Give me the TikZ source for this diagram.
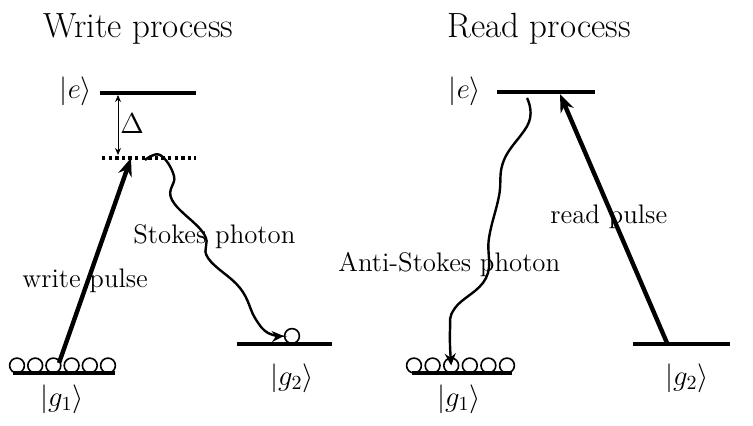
\documentclass[tikz,border=0pt]{standalone}
\usetikzlibrary{arrows.meta}
\begin{document}
\begin{tikzpicture}[x=0.5pt,y=-0.5pt,
  level/.style={line width=1.8pt},
  virt/.style={line width=1.6pt,dash pattern=on 1.7pt off 1.6pt},
  atom/.style={draw,line width=0.8pt,circle,minimum size=7.4pt,inner sep=0pt},
  pulse/.style={line width=2.2pt,-{Stealth[length=9pt,width=7pt]}},
  photon/.style={line width=1.2pt,-{Stealth[length=6pt,width=5.5pt,inset=2pt]}},
  ttl/.style={font=\fontsize{17.5}{21}\selectfont,anchor=base west,inner sep=0pt},
  lbl/.style={font=\fontsize{13.4}{16}\selectfont,anchor=base west,inner sep=0pt},
  ket/.style={font=\fontsize{14.5}{17}\selectfont,inner sep=0pt}]
\useasboundingbox (0,0) rectangle (753,426);
% ---------------- Write process ----------------
\node[ttl] (tw) at (43,38) {Write process};
\coordinate (weL) at (100,93); \coordinate (weR) at (196,93);
\draw[level] (weL) -- (weR);
\coordinate (wvL) at (102,158); \coordinate (wvR) at (196,158);
\draw[virt] (wvL) -- (wvR);
\node[ket] (kew) at (76,91) {$|e\rangle$};
\coordinate (dtop) at (118,95); \coordinate (dbot) at (118,155);
\draw[line width=0.5pt,{Stealth[length=3.5pt,width=3pt]}-{Stealth[length=3.5pt,width=3pt]}] (dtop) -- (dbot);
\node[ket] (delta) at (132,124) {$\Delta$};
\coordinate (wg1L) at (13,373); \coordinate (wg1R) at (115,373);
\draw[level] (wg1L) -- (wg1R);
\foreach \i in {0,...,5} \node[atom] (wa\i) at (17+18.2*\i,365.5) {};
\node[ket] (kg1w) at (62,399) {$|g_1\rangle$};
\coordinate (wg2L) at (237,344); \coordinate (wg2R) at (332,344);
\draw[level] (wg2L) -- (wg2R);
\node[atom] (wb) at (292,336) {};
\node[ket] (kg2w) at (292,378) {$|g_2\rangle$};
\coordinate (wpS) at (59,363); \coordinate (wpE) at (131,158);
\draw[pulse] (wpS) -- (wpE);
\node[lbl] (wpl) at (22,288) {write pulse};
\coordinate (stS) at (145,160);
\draw[photon] plot[smooth,tension=0.7] coordinates {(stS) (160,155) (174,176) (172,200) (204,234) (208,258) (240,288) (255,318) (268,333) (wb.west)};
\node[lbl] (stl) at (133,244) {Stokes photon};
% ---------------- Read process ----------------
\node[ttl] (tr) at (447,38) {Read process};
\coordinate (reL) at (497,92); \coordinate (reR) at (595,92);
\draw[level] (reL) -- (reR);
\node[ket] (ker) at (465,91) {$|e\rangle$};
\coordinate (rg1L) at (412,373); \coordinate (rg1R) at (512,373);
\draw[level] (rg1L) -- (rg1R);
\foreach \i in {0,...,5} \node[atom] (ra\i) at (414+18.6*\i,365.5) {};
\node[ket] (kg1r) at (459,399) {$|g_1\rangle$};
\coordinate (rg2L) at (633,344); \coordinate (rg2R) at (730,344);
\draw[level] (rg2L) -- (rg2R);
\node[ket] (kg2r) at (687,378) {$|g_2\rangle$};
\coordinate (rpS) at (667,343); \coordinate (rpE) at (560,94);
\draw[pulse] (rpS) -- (rpE);
\node[lbl] (rpl) at (550,224) {read pulse};
\coordinate (asS) at (527,98);
\draw[photon] plot[smooth,tension=0.7] coordinates {(asS) (529,122) (504,160) (499,196) (489,238) (486,278) (455,308) (450,330) (ra2.center)};
\node[lbl] (asl) at (338,272) {Anti-Stokes photon};
\end{tikzpicture}
\end{document}
